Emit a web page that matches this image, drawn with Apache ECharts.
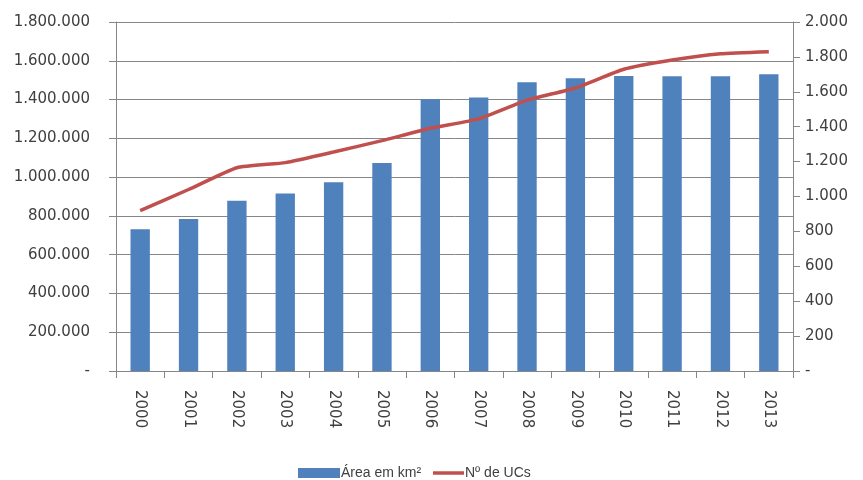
<!DOCTYPE html>
<html>
<head>
<meta charset="utf-8">
<script src="https://cdn.jsdelivr.net/npm/echarts@6/dist/echarts.min.js"></script>
<style>html,body{margin:0;padding:0;background:#fff;}#c{width:863px;height:480px;}</style>
</head>
<body>
<div id="c"></div>
<script>
var years = ['2000','2001','2002','2003','2004','2005','2006','2007','2008','2009','2010','2011','2012','2013'];
var areaKm2 = [731000, 784000, 878000, 916000, 973000, 1073000, 1401000, 1410000, 1489000, 1510000, 1521000, 1520000, 1520000, 1530000];
var numUCs = [919, 1040, 1165, 1194, 1255, 1320, 1391, 1445, 1552, 1622, 1729, 1782, 1818, 1830];
var seriesNames = ['Área em km²', 'Nº de UCs'];

function fmt(v) {
  if (v === 0) return '-';
  return String(v).replace(/\B(?=(\d{3})+(?!\d))/g, '.');
}

var chart = echarts.init(document.getElementById('c'), null, {renderer: 'canvas'});
var axisFont = {fontFamily: 'DejaVu Sans', fontSize: 15, color: '#404040'};
var legendText = {fontFamily: 'Liberation Sans', fontSize: 14, color: '#404040'};
chart.setOption({
  animation: false,
  backgroundColor: '#fff',
  grid: {left: 116, right: 70, top: 22, bottom: 109, containLabel: false},
  legend: [{
    left: 293, top: 461,
    itemWidth: 42, itemHeight: 10, itemGap: 0,
    textStyle: Object.assign({padding: [0,0,0,-4]}, legendText),
    data: [{name: seriesNames[0], icon: 'rect'}]
  }, {
    left: 428, top: 461,
    itemWidth: 31, itemHeight: 3.5, itemGap: 0,
    textStyle: Object.assign({padding: [0,0,0,-4]}, legendText),
    data: [{name: seriesNames[1], icon: 'rect', itemStyle: {color: '#C0504D'}}]
  }],
  xAxis: {
    type: 'category',
    data: years,
    boundaryGap: true,
    axisLine: {lineStyle: {color: '#868686', width: 1}},
    axisTick: {show: true, length: 7, interval: 0, lineStyle: {color: '#868686'}},
    axisLabel: Object.assign({rotate: -90, margin: 19, interval: 0}, axisFont)
  },
  yAxis: [{
    type: 'value',
    min: 0, max: 1800000, interval: 200000,
    axisLine: {show: true, lineStyle: {color: '#868686'}},
    axisTick: {show: true, length: 7, lineStyle: {color: '#868686'}},
    splitLine: {show: true, lineStyle: {color: '#868686', width: 1}},
    axisLabel: Object.assign({formatter: fmt, margin: 26}, axisFont)
  }, {
    type: 'value',
    min: 0, max: 2000, interval: 200,
    position: 'right',
    axisLine: {show: true, lineStyle: {color: '#868686'}},
    axisTick: {show: true, length: 7, lineStyle: {color: '#868686'}},
    splitLine: {show: false},
    axisLabel: Object.assign({formatter: fmt, margin: 12}, axisFont)
  }],
  series: [{
    name: seriesNames[0],
    type: 'bar',
    data: areaKm2,
    barWidth: '40%',
    itemStyle: {color: '#4F81BD'},
    yAxisIndex: 0
  }, {
    name: seriesNames[1],
    type: 'line',
    data: numUCs,
    yAxisIndex: 1,
    smooth: 0.15,
    symbol: 'none',
    lineStyle: {color: '#C0504D', width: 3.5},
    itemStyle: {color: '#C0504D'}
  }]
});
</script>
</body>
</html>
